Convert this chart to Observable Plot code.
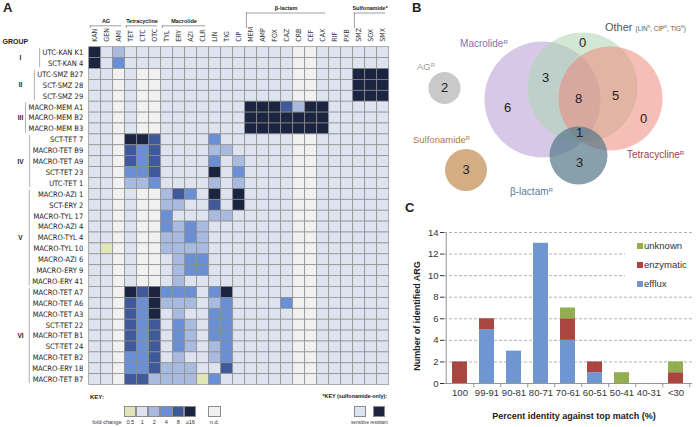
<!DOCTYPE html>
<html><head><meta charset="utf-8">
<script src="https://cdn.jsdelivr.net/npm/d3@7"></script>
<script src="https://cdn.jsdelivr.net/npm/@observablehq/plot@0.6"></script>
<style>
body{margin:0;background:#fff;}
#fig{position:relative;width:696px;height:427px;overflow:hidden;font-family:'Liberation Sans',Arial,Helvetica,sans-serif;color:#222;}
#fig > div{position:absolute;}
.lbl{white-space:nowrap;line-height:1;}
.sup{font-size:0.62em;vertical-align:0.55em;}
</style></head><body><div id="fig"></div>
<script>
// ---------------- DATA ----------------
const drugs = ["KAN","GEN","AMI","TET","CTC","OTC","TYL","ERY","AZI","CLR","LIN","TIG","CIP","MEM","AMP","FOX","CAZ","CRB","CEF","CAX","RIF","PXB","SMZ","SOX","SMX"];
const drugClasses = ["AG","Tetracycline","Macrolide","β-lactam","Sulfonamide*"];
const classFirstDrug = ["KAN","TET","TYL","MEM","SMZ"];
const classLastDrug = ["AMI","OTC","CLR","CAX","SMX"];
const isolates = ["UTC-KAN K1","SCT-KAN 4","UTC-SMZ B27","SCT-SMZ 28","SCT-SMZ 29","MACRO-MEM A1","MACRO-MEM B2","MACRO-MEM B3","SCT-TET 7","MACRO-TET B9","MACRO-TET A9","SCT-TET 23","UTC-TET 1","MACRO-AZI 1","SCT-ERY 2","MACRO-TYL 17","MACRO-AZI 4","MACRO-TYL 4","MACRO-TYL 10","MACRO-AZI 6","MACRO-ERY 9","MACRO-ERY 41","MACRO-TET A7","MACRO-TET A6","MACRO-TET A3","SCT-TET 22","MACRO-TET B1","SCT-TET 24","MACRO-TET B2","MACRO-ERY 18","MACRO-TET B7"];
const groupNames = ["I","II","III","IV","V","VI"];
const groupSizes = [2,3,3,5,9,9];
// fold-change codes per isolate, one char per drug: h=0.5 .=1 2 4 8 X=>=16 n=n.d.
const foldCodes = [
"X.2..............nn......",
"X.4..............nn......",
"..n.nn...........nn...XXX",
"..n.nn...........nn...XXX",
"..n.nn...........nn...XXX",
"..n.nn.......XXX82XX.....",
"..n.nn.......XXXXXXX.....",
"..n.nn.......XXXXXXX.....",
"..nXX8....4......nn......",
"..n848....22.....nn......",
"..n848....4.2....nn......",
"..n448....X.4....nn......",
"..n224....2.2....nn......",
"..n.nn284.X.X....nn......",
"..n.nn22..8.X....nn......",
"..n.nn4...22.....nn......",
"..n.nn4242.......nn......",
"..n.nn2242.......nn......",
".hn.nn2222.......nn......",
"..n.nn.244.......nn......",
"..n.nn.244.......nn......",
"..n.nn.2.........nn......",
"..nX8X444.4X.....nn......",
"..n84X222.24....4nn......",
"..n84X.2..44.....nn......",
"..n848.42.44.....nn......",
"..n848.42.44.....nn......",
"..n848.42.24.....nn......",
"..n448.2..24.....nn......",
"..n448222..8.....nn......",
"..n882222h4......nn......"
];
const keyCodes = ["h",".","2","4","8","X"];
const keyLabels = ["0.5","1","2","4","8","≥16"];

const vennSets = ["Macrolide","Other","Tetracycline","β-lactam","AG","Sulfonamide"];
const vennX = [136,176,204,172,38,59.5];
const vennY = [99,87,98,155,87.5,169.5];
const vennR = [58,55,52,29,16,21];
const vennCounts = [6,3,0,8,5,0,1,3,2,3];
const vennCountX = [101,139,176,172,209,237,173,173,38,59.5];
const vennCountY = [107,77,42,98,95,118,132,162,87.5,169.5];

const bins = ["100","99-91","90-81","80-71","70-61","60-51","50-41","40-31","<30"];
const mechanisms = ["efflux","enzymatic","unknown"];
const effluxCounts = [0,5,3,13,4,1,0,0,0];
const enzymaticCounts = [2,1,0,0,2,1,0,0,1];
const unknownCounts = [0,0,0,0,1,0,1,0,1];
const yTicks = [0,2,4,6,8,10,12,14];

// ---------------- STYLE ----------------
const FONT = "'Liberation Sans', Arial, Helvetica, sans-serif";
const NARROW = "'Liberation Sans Narrow', 'Arial Narrow', 'DejaVu Sans Condensed', 'Liberation Sans', Arial, sans-serif";
const codeColor = {"h":"#e1e6b6",".":"#dde3ef","2":"#a8badf","4":"#6990d6","8":"#40599a","X":"#1b2541","n":"#f1f1f1"};
const vennFill = ["#b49bd2","#add5b1","#ed897a","#547788","#c9c9c9","#d3ae84"];
const vennOpacity = [0.55,0.55,0.55,0.7,1,1];
const mechColors = ["#6f96d1","#a8463f","#93ad51"];

const fig = document.getElementById("fig");
function place(node, left, top) {
  const d = document.createElement("div");
  d.style.left = left + "px"; d.style.top = top + "px";
  d.appendChild(node); fig.appendChild(d); return d;
}
function label(html, x, y, css = "", anchor = "middle") {
  const d = document.createElement("div");
  d.className = "lbl"; d.innerHTML = html;
  d.style.left = x + "px"; d.style.top = y + "px";
  const tx = anchor === "start" ? "0" : anchor === "end" ? "-100%" : "-50%";
  d.style.transform = `translate(${tx},-50%)`;
  d.style.cssText += css;
  fig.appendChild(d); return d;
}

// ---------------- PANEL A ----------------
const gridLeft = 88.7, gridRight = 388.7, gridTop = 46.7, gridBottom = 384.6;
const colW = (gridRight - gridLeft) / drugs.length;
const rowH = (gridBottom - gridTop) / isolates.length;
const ux = px => (px - gridLeft) / colW;
const uy = px => (px - gridTop) / rowH;
const drugIndex = new Map(drugs.map((d, i) => [d, i]));
const cells = foldCodes.flatMap((s, r) => Array.from(s, (c, k) => ({r, k, c})));

const ctx = document.createElement("canvas").getContext("2d");
ctx.font = `7.5px ${NARROW}`;
let acc = 0;
const groupRows = groupNames.map((name, g) => {
  const s = acc; acc += groupSizes[g];
  const w = d3.max(isolates.slice(s, acc), t => ctx.measureText(t).width);
  return {name, start: s, end: acc, bx: ux(gridLeft - 6 - w - 3)};
});
const raisedFrom = drugIndex.get("MEM");
const classRows = drugClasses.map((name, i) => {
  const first = drugIndex.get(classFirstDrug[i]), last = drugIndex.get(classLastDrug[i]);
  const raised = first >= raisedFrom;
  return {name, first, last, lineY: uy(raised ? 12.5 : 25.3), textY: uy(raised ? 7.6 : 20.6)};
});

const plotA = Plot.plot({
  width: 400, height: 427,
  x: {domain: [0, drugs.length], range: [gridLeft, gridRight], axis: null},
  y: {domain: [0, isolates.length], range: [gridTop, gridBottom], axis: null},
  style: {background: "transparent", overflow: "visible", fontFamily: FONT, fontSize: "7px", color: "#222"},
  marks: [
    Plot.rect(cells, {x1: d => d.k, x2: d => d.k + 1, y1: d => d.r, y2: d => d.r + 1,
      fill: d => codeColor[d.c], stroke: "#8d8d8d", strokeWidth: 0.7}),
    Plot.text(drugs, {x: (d, i) => i + 0.5, y: 0, text: d => d, rotate: -90, textAnchor: "start",
      dy: -5.5, fontSize: 7, fontFamily: NARROW, fill: "#333"}),
    Plot.text(isolates, {x: 0, y: (d, i) => i + 0.5, text: d => d, textAnchor: "end", dx: -6,
      fontSize: 7.5, fontFamily: NARROW, fill: "#222"}),
    Plot.ruleX(groupRows, {x: "bx", y1: d => d.start + 0.12, y2: d => d.end - 0.12, stroke: "#9a9a9a", strokeWidth: 0.8}),
    Plot.text(groupRows, {x: 0, dx: -68.7, y: d => (d.start + d.end) / 2, text: "name", fontWeight: "bold", fontSize: 6.5, fill: "#222"}),
    Plot.text(["GROUP"], {x: 0, y: 0, dx: -86.7, dy: -5, text: d => d, textAnchor: "start", fontWeight: "bold", fontSize: 7, fill: "#222"}),
    Plot.ruleY(classRows, {y: "lineY", x1: d => d.first + 0.1, x2: d => d.last + 0.7, stroke: "#777", strokeWidth: 0.7}),
    Plot.ruleX(classRows, {x: d => d.first + 0.1, y1: "lineY", y2: uy(28), stroke: "#777", strokeWidth: 0.7}),
    Plot.text(classRows, {x: d => (d.first + d.last + 0.8) / 2, y: "textY", text: "name", fontWeight: "bold", fontSize: 5.5, fill: "#222"})
  ]
});
place(plotA, 0, 0);

// keys (legends) below the heatmap
label("KEY:", 90, 397, "font-size:6px;font-weight:bold;", "start");
keyCodes.forEach((c, i) => {
  const s = document.createElement("div");
  s.style.cssText = `left:${124.3 + 12 * i}px;top:405.7px;width:12px;height:11px;box-sizing:border-box;border:0.7px solid #8d8d8d;background:${codeColor[c]};`;
  fig.appendChild(s);
  label(keyLabels[i], 130.3 + 12 * i, 423.3, "font-size:5.6px;color:#333;");
});
{
  const s = document.createElement("div");
  s.style.cssText = `left:208.3px;top:405.7px;width:12.4px;height:11px;box-sizing:border-box;border:0.7px solid #8d8d8d;background:${codeColor.n};`;
  fig.appendChild(s);
  label("n.d.", 214.5, 423.3, "font-size:5.6px;color:#333;");
  label("fold-change", 121.5, 423.3, "font-size:5.6px;color:#333;", "end");
}
label("*KEY (sulfonamide-only):", 387, 397, "font-size:5.4px;font-weight:bold;", "end");
[[".", "sensitive", 354], ["X", "resistant", 373]].forEach(([c, t, x]) => {
  const s = document.createElement("div");
  s.style.cssText = `left:${x}px;top:405.7px;width:12px;height:11px;box-sizing:border-box;border:0.7px solid #8d8d8d;background:${codeColor[c]};`;
  fig.appendChild(s);
  label(t, x + 6, 423.3, "font-size:4.6px;color:#333;");
});

// ---------------- PANEL B ----------------
const vennIdx = d3.range(vennSets.length);
const plotB = Plot.plot({
  width: 290, height: 195, margin: 0,
  x: {domain: [0, 290], range: [0, 290], axis: null},
  y: {domain: [0, 195], range: [0, 195], axis: null},
  r: {type: "identity"},
  style: {background: "transparent", overflow: "visible", fontFamily: FONT},
  marks: [
    Plot.dot(vennIdx, {x: i => vennX[i], y: i => vennY[i], r: i => vennR[i], fill: i => vennFill[i], fillOpacity: i => vennOpacity[i], stroke: null}),
    Plot.text(vennCounts, {x: (d, i) => vennCountX[i], y: (d, i) => vennCountY[i], text: d => String(d), fontSize: 13, fill: "#222"})
  ]
});
place(plotB, 406, 0);

// ---------------- PANEL C ----------------
const cData = [];
bins.forEach((b, i) => {
  [effluxCounts, enzymaticCounts, unknownCounts].forEach((arr, m) => {
    if (arr[i] > 0) cData.push({bin: b, mech: mechanisms[m], n: arr[i]});
  });
});
const cW = 296, cML = 44, cMR = 4;
const step = (cW - cML - cMR) / bins.length;
const plotC = Plot.plot({
  width: cW, height: 232,
  marginLeft: cML, marginRight: cMR, marginTop: 37, marginBottom: 44,
  x: {domain: bins, paddingInner: 0.44, paddingOuter: 0.22, tickSize: 0, tickPadding: 6, label: null},
  y: {domain: [0, 14], ticks: yTicks, tickSize: 4, tickPadding: 2, label: null},
  color: {domain: mechanisms, range: mechColors},
  style: {background: "transparent", overflow: "visible", fontFamily: FONT, fontSize: "9.5px", color: "#333"},
  marks: [
    Plot.ruleY(yTicks.filter(t => t > 0), {stroke: "#a0a0a0", strokeWidth: 0.8, strokeDasharray: "3,2"}),
    Plot.barY(cData, {x: "bin", y: "n", fill: "mech", order: mechanisms}),
    Plot.ruleY([0], {stroke: "#8a8a8a", strokeWidth: 0.9}),
    Plot.ruleX([bins[0]], {dx: -step / 2, stroke: "#8a8a8a", strokeWidth: 0.9}),
    Plot.ruleX(bins, {x: d => d, y1: 0, y2: -0.4, dx: step / 2, stroke: "#8a8a8a", strokeWidth: 0.9})
  ]
});
place(plotC, 400, 195);

// legend for panel C
{
  const lg = document.createElement("div");
  lg.style.cssText = "left:625px;top:238px;width:67px;height:54px;background:#fff;";
  fig.appendChild(lg);
  ["unknown", "enzymatic", "efflux"].forEach((m, j) => {
    const y = 246 + 19 * j;
    const s = document.createElement("div");
    s.style.cssText = `left:637px;top:${y - 3}px;width:6px;height:6px;background:${mechColors[mechanisms.indexOf(m)]};`;
    fig.appendChild(s);
    label(m, 644, y, "font-size:9.5px;color:#333;", "start");
  });
}
label("Number of identified ARG", 417, 316, "font-size:9px;font-weight:bold;transform:translate(-50%,-50%) rotate(-90deg);");
label("Percent identity against top match (%)", 574, 416, "font-size:9px;font-weight:bold;");

// Venn labels
label('Macrolide<span class="sup">R</span>', 484, 44, "font-size:10px;color:#8b6db3;");
label('AG<span class="sup">R</span>', 426, 67, "font-size:9.5px;color:#9a9a9a;");
label('Sulfonamide<span class="sup">R</span>', 413, 140, "font-size:9.5px;color:#b3793a;", "start");
label('Other <span style="font-size:6.3px">(LIN<span class="sup">R</span>, CIP<span class="sup">R</span>, TIG<span class="sup">R</span>)</span>', 605, 27, "font-size:11px;color:#555;", "start");
label('Tetracycline<span class="sup">R</span>', 627, 155, "font-size:10px;color:#9e3f44;", "start");
label('β-lactam<span class="sup">R</span>', 510, 192, "font-size:10px;color:#5a7c92;", "start");

// panel letters
label("A", 3, 7, "font-size:13px;font-weight:bold;", "start");
label("B", 412, 7, "font-size:13px;font-weight:bold;", "start");
label("C", 405, 207, "font-size:13px;font-weight:bold;", "start");
</script></body></html>
